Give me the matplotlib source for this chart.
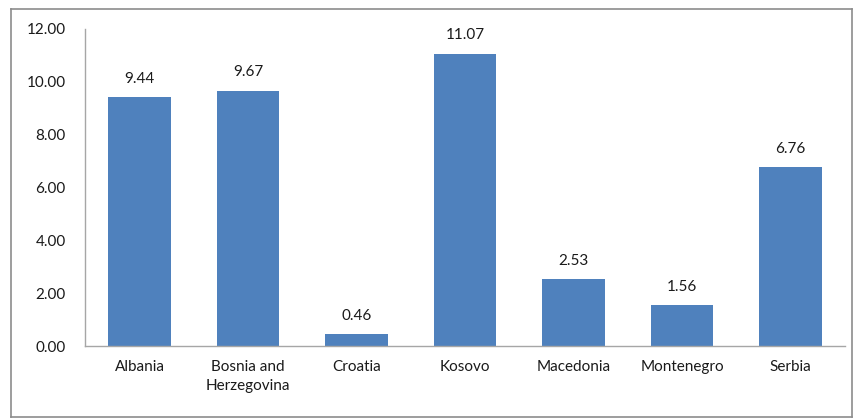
import matplotlib
matplotlib.use("Agg")
import matplotlib.pyplot as plt

categories = ["Albania", "Bosnia and\nHerzegovina", "Croatia", "Kosovo", "Macedonia", "Montenegro", "Serbia"]
values = [9.44, 9.67, 0.46, 11.07, 2.53, 1.56, 6.76]
yticks = [0, 2, 4, 6, 8, 10, 12]

plt.rcParams['font.family'] = ['Lato', 'DejaVu Sans']

W, H = 854, 419
fig = plt.figure(figsize=(W / 100, H / 100), dpi=100)

# outer chart border as a background frame axes
frame = fig.add_axes([11 / W, 2 / H, 841 / W, 408 / H], zorder=0)
frame.set_xticks([])
frame.set_yticks([])
frame.patch.set_alpha(0)
for s in frame.spines.values():
    s.set_color("#8c8c8c")
    s.set_linewidth(1.2)

ax = fig.add_axes([0.0998, 0.1742, 0.8894, 0.7566], zorder=1)
ax.patch.set_alpha(0)

x = list(range(len(categories)))
bars = ax.bar(x, values, width=0.58, color="#4f81bd")
for xi, v in zip(x, values):
    ax.annotate(f"{v:.2f}", (xi, v), xytext=(0, 8), textcoords="offset points",
                ha="center", va="bottom", fontsize=11, color="#1a1a1a")

ax.set_xlim(-0.5, len(categories) - 0.5)
ax.set_ylim(0, 12)
ax.set_yticks(yticks)
ax.set_yticklabels([f"{t:.2f}" for t in yticks], fontsize=11, color="#1a1a1a")
ax.set_xticks(x)
ax.set_xticklabels(categories, fontsize=11, color="#1a1a1a", linespacing=1.5)
ax.tick_params(axis="both", length=0)
ax.tick_params(axis="y", pad=14)
ax.tick_params(axis="x", pad=10)
for s in ["top", "right"]:
    ax.spines[s].set_visible(False)
for s in ["left", "bottom"]:
    ax.spines[s].set_color("#a6a6a6")
    ax.spines[s].set_linewidth(1)

fig.savefig("out.png", dpi=100)
